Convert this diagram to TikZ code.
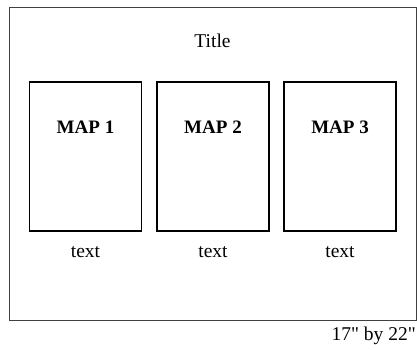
\documentclass[tikz,border=0pt]{standalone}
\usepackage{fontspec}
\setmainfont{Liberation Serif}
\begin{document}
\begin{tikzpicture}[x=1pt,y=1pt,font=\fontsize{19.5}{22}\selectfont,
  mapbox/.style={draw,line width=1.3pt,minimum width=112pt,minimum height=149pt,inner sep=0pt},
  maplabel/.style={font=\fontsize{19}{22}\selectfont\bfseries}]
\useasboundingbox (0,0) rectangle (417,-350);
\draw[line width=1pt,black!75] (9,-8) rectangle (416,-320);
\node (title) at (212.5,-41) {Title};
\node[mapbox] (map1) at (85.5,-156.5) {};
\node[mapbox] (map2) at (213,-156.5) {};
\node[mapbox] (map3) at (340,-156.5) {};
\node[maplabel] (lab1) at (85.5,-127) {MAP 1};
\node[maplabel] (lab2) at (213,-127) {MAP 2};
\node[maplabel] (lab3) at (340,-127) {MAP 3};
\node (text1) at (85.5,-252) {text};
\node (text2) at (213,-252) {text};
\node (text3) at (340,-252) {text};
\node[anchor=east,inner sep=0pt] (size) at (416,-336) {17\textquotedbl{} by 22\textquotedbl};
\end{tikzpicture}
\end{document}
